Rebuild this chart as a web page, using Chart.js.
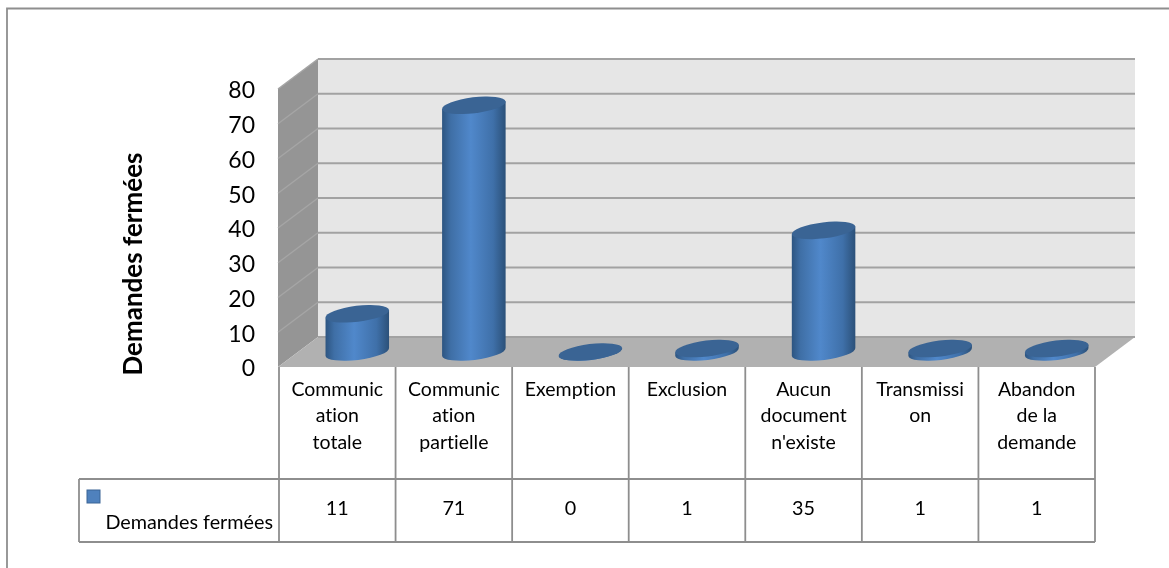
<!DOCTYPE html>
<html>
<head>
<meta charset="utf-8">
<style>
  html, body { margin: 0; padding: 0; background: #fff; overflow: hidden; }
  canvas { display: block; }
</style>
<script src="https://cdn.jsdelivr.net/npm/chart.js@4/dist/chart.umd.min.js"></script>
</head>
<body>
<canvas id="chart" width="1169" height="568"></canvas>
<script>
const categories = [
  ["Communic", "ation", "totale"],
  ["Communic", "ation", "partielle"],
  ["Exemption"],
  ["Exclusion"],
  ["Aucun", "document", "n'existe"],
  ["Transmissi", "on"],
  ["Abandon", "de la", "demande"],
]
const values = [11, 71, 0, 1, 35, 1, 1]
const seriesName = "Demandes fermées"

const font = "Lato, 'Open Sans', sans-serif"
const lineColor = "#8e8e8e"
const depthX = 40
const depthY = 30

const scene = {
  id: "scene",
  beforeDraw(chart) {
    // no "ti" ligatures, the original font has none
    chart.ctx.textRendering = "optimizeSpeed"
    // tick labels sit a little lower than the tick itself
    const items = chart.scales.y.getLabelItems()
    if (!items.moved) {
      items.forEach(i => { i.options.translation[1] += 2 })
      items.moved = true
    }
  },
  // walls and floor, gridlines follow the y ticks
  beforeDatasetsDraw(chart) {
    const c = chart.ctx
    const y = chart.scales.y
    const x = chart.scales.x
    const front = y.getPixelForValue(0)
    const top = y.getPixelForValue(80)

    c.save()
    c.fillStyle = "#e6e6e6"
    c.fillRect(x.left + depthX - 1, top - depthY, x.width + 1, front - top)

    c.fillStyle = "#959595"
    c.beginPath()
    c.moveTo(x.left - 1, top)
    c.lineTo(x.left + depthX - 1, top - depthY)
    c.lineTo(x.left + depthX - 1, front - depthY)
    c.lineTo(x.left - 1, front)
    c.closePath()
    c.fill()

    c.fillStyle = "#b1b1b1"
    c.beginPath()
    c.moveTo(x.left - 1, front)
    c.lineTo(x.left + depthX - 1, front - depthY)
    c.lineTo(x.right + depthX, front - depthY)
    c.lineTo(x.right, front)
    c.closePath()
    c.fill()

    y.ticks.forEach(t => {
      const py = y.getPixelForValue(t.value)
      if (t.value > 0) {
        c.strokeStyle = "#a5a5a5"
        c.lineWidth = 1.5
        c.beginPath()
        c.moveTo(x.left - 1, py)
        c.lineTo(x.left + depthX - 1, py - depthY)
        c.stroke()
      }
      c.strokeStyle = "#a2a2a2"
      c.lineWidth = 2
      c.beginPath()
      c.moveTo(x.left + depthX - 1, py - depthY)
      c.lineTo(x.right + depthX, py - depthY)
      c.stroke()
    })
    c.restore()
  },
  // cylinders, placed from the bar elements
  afterDatasetsDraw(chart) {
    const c = chart.ctx
    const tilt = -7 * Math.PI / 180
    const rx = 32
    const ry = 8
    chart.getDatasetMeta(0).data.forEach(bar => {
      const cx = bar.x + depthX / 2
      const topY = bar.y - depthY / 2
      const baseY = bar.base - depthY / 2
      const dx = rx * Math.cos(tilt)
      const dy = rx * Math.sin(tilt)

      c.save()
      const g = c.createLinearGradient(cx - rx, 0, cx + rx, 0)
      g.addColorStop(0, "#2c5480")
      g.addColorStop(0.14, "#3f6fa6")
      g.addColorStop(0.45, "#5088cb")
      g.addColorStop(0.8, "#3f70a9")
      g.addColorStop(1, "#2b5078")
      c.fillStyle = g
      c.beginPath()
      c.moveTo(cx - dx, topY - dy)
      c.lineTo(cx - dx, baseY - dy)
      c.ellipse(cx, baseY, rx, ry, tilt, Math.PI, 0, true)
      c.lineTo(cx + dx, topY + dy)
      c.closePath()
      c.fill()

      c.fillStyle = "#3a6494"
      c.beginPath()
      c.ellipse(cx, topY, rx, ry, tilt, 0, Math.PI * 2)
      c.fill()
      c.restore()
    })
  },
  // data table under the plot, axis title and the outer frame
  afterDraw(chart) {
    const c = chart.ctx
    const x = chart.scales.x
    const front = chart.scales.y.getPixelForValue(0)
    const rowTop = 479
    const rowBottom = 542
    const legendLeft = 79
    const step = x.width / categories.length

    c.save()
    c.strokeStyle = lineColor
    c.lineWidth = 1.8
    c.beginPath()
    c.moveTo(7, 568); c.lineTo(7, 8.5); c.lineTo(1169, 8.5)
    c.moveTo(legendLeft, rowTop); c.lineTo(x.right, rowTop)
    c.moveTo(legendLeft, rowBottom); c.lineTo(x.right, rowBottom)
    c.moveTo(legendLeft, rowTop); c.lineTo(legendLeft, rowBottom)
    for (let i = 0; i <= categories.length; i++) {
      const px = x.left + i * step
      c.moveTo(px, front); c.lineTo(px, rowBottom)
    }
    c.stroke()

    c.fillStyle = "#000"
    c.font = "19.8px " + font
    c.textBaseline = "middle"
    c.textAlign = "center"
    values.forEach((v, i) => c.fillText(String(v), x.getPixelForValue(i), 509))
    c.textAlign = "right"
    c.fillText(seriesName, 273, 523)

    c.fillStyle = "#4f81bd"
    c.strokeStyle = "#3b6596"
    c.lineWidth = 1
    c.fillRect(87, 490, 13, 13)
    c.strokeRect(87, 490, 13, 13)

    c.save()
    c.translate(134, 264)
    c.rotate(-Math.PI / 2)
    c.textAlign = "center"
    c.fillStyle = "#000"
    c.font = "bold 26px " + font
    c.fillText(seriesName, 0, 0)
    c.restore()
    c.restore()
  },
}

new Chart(document.getElementById("chart"), {
  type: "bar",
  plugins: [scene],
  data: {
    labels: categories,
    datasets: [{
      label: seriesName,
      data: values,
      backgroundColor: "rgba(0,0,0,0)",
      borderWidth: 0,
    }],
  },
  options: {
    responsive: false,
    animation: false,
    layout: { padding: { top: 89, right: 74, bottom: 0, left: 0 } },
    plugins: { legend: { display: false }, tooltip: { enabled: false } },
    scales: {
      x: {
        afterFit(scale) { scale.height = 201 },
        grid: { display: false },
        border: { display: false },
        ticks: {
          autoSkip: false,
          maxRotation: 0,
          padding: 1,
          color: "#000",
          font: { family: font, size: 19.5, lineHeight: 1.36 },
        },
      },
      y: {
        min: 0,
        max: 80,
        afterFit(scale) { scale.width = 279 },
        grid: { display: false },
        border: { display: false },
        ticks: {
          stepSize: 10,
          padding: 16,
          color: "#000",
          font: { family: font, size: 23 },
        },
      },
    },
  },
})
</script>
</body>
</html>
